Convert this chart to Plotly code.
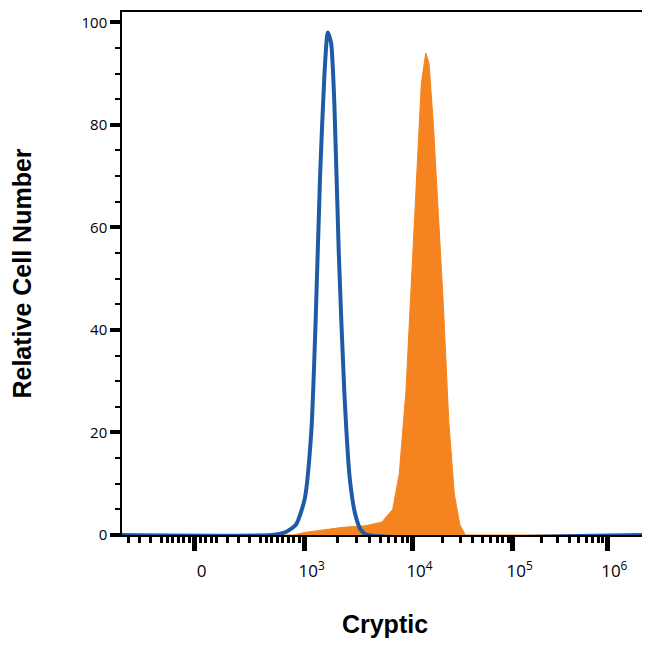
import plotly.graph_objects as go

# x in display units: 0 -> "0", 1 -> 10^3, 1.98 -> 10^4, 2.89 -> 10^5, 3.75 -> 10^6
tick_pos = [0, 1.0, 1.98, 2.89, 3.75]
tick_text = ["0", "10<sup>3</sup>", "10<sup>4</sup>", "10<sup>5</sup>", "10<sup>6</sup>"]

# isotype control (blue outline)
blue_x = [-0.66, 0.7, 0.82, 0.92, 1.0, 1.06, 1.1, 1.14, 1.18, 1.21, 1.24, 1.27, 1.31, 1.36, 1.41, 1.46, 1.51, 1.57, 4.12]
blue_y = [0, 0, 0.5, 2, 7, 20, 42, 70, 90, 98, 96, 84, 55, 28, 11, 4, 1, 0, 0]

# stained cells (orange filled)
orange_x = [-0.66, 0.9, 1.0, 1.2, 1.35, 1.55, 1.7, 1.8, 1.86, 1.92, 1.97, 2.02, 2.06, 2.1, 2.13, 2.17, 2.21, 2.26, 2.31, 2.36, 2.41, 2.46, 4.12]
orange_y = [0, 0, 0.5, 1, 1.5, 1.8, 2.5, 5, 12, 28, 50, 72, 88, 94, 92, 80, 65, 45, 22, 8, 2, 0, 0]

# minor tick positions on x (log subdivisions + linear clump near 0)
minor_x = [-0.6, -0.5, -0.4, -0.3, -0.25, -0.2, -0.15, -0.1, -0.05, 0.05, 0.1, 0.15, 0.2,
           0.3, 0.4, 0.5, 0.6, 0.65, 0.7, 0.75, 0.8, 0.85, 0.9, 0.95]
for a, b in [(1.0, 1.98), (1.98, 2.89), (2.89, 3.75)]:
    for f in [0.301, 0.477, 0.602, 0.699, 0.778, 0.845, 0.903, 0.954]:
        minor_x.append(a + (b - a) * f)

fig = go.Figure()
fig.add_trace(go.Scatter(x=orange_x, y=orange_y, fill="tozeroy", mode="lines",
                         line=dict(color="#f5831f", width=1), fillcolor="#f5831f"))
fig.add_trace(go.Scatter(x=blue_x, y=blue_y, mode="lines",
                         line=dict(color="#1f5aa6", width=4, shape="spline", smoothing=0.6)))
# invisible trace to activate the minor tick axis
fig.add_trace(go.Scatter(x=[0], y=[0], xaxis="x2", mode="markers", opacity=0,
                         hoverinfo="skip"))

xrange = [-0.66, 4.12]
fig.update_layout(
    width=642, height=646,
    margin=dict(l=114, r=2, t=4, b=119),
    plot_bgcolor="white", paper_bgcolor="white",
    showlegend=False,
    font=dict(family="Open Sans", color="black"),
    xaxis=dict(range=xrange, tickmode="array", tickvals=tick_pos, ticktext=tick_text,
               ticks="outside", ticklen=14, tickwidth=5, tickcolor="black", automargin=False,
               ticklabelshift=7, ticklabelstandoff=6,
               showgrid=False, zeroline=False, showline=True, linecolor="black",
               linewidth=1.5, mirror=True, tickfont=dict(size=17),
               title=dict(text="<b>Cryptic</b>", font=dict(size=25, family="Liberation Sans"),
                          standoff=34)),
    xaxis2=dict(range=xrange, overlaying="x", side="bottom", tickmode="array",
                tickvals=minor_x, ticktext=[""] * len(minor_x), ticks="outside",
                ticklen=7, tickwidth=3, tickcolor="black", showgrid=False,
                zeroline=False, showline=False, automargin=False),
    yaxis=dict(range=[0, 102], tickmode="array", tickvals=[0, 20, 40, 60, 80, 100],
               ticks="outside", ticklen=10, tickwidth=4, tickcolor="black", automargin=False,
               ticklabeloverflow="allow",
               minor=dict(dtick=5, ticks="outside", ticklen=5, tickwidth=2, tickcolor="black"),
               showgrid=False, zeroline=False, showline=True, linecolor="black",
               linewidth=1.5, mirror=True, tickfont=dict(size=15),
               title=dict(text="<b>Relative Cell Number</b>",
                          font=dict(size=25, family="Liberation Sans"), standoff=52)),
)

fig.write_html("out.html")
